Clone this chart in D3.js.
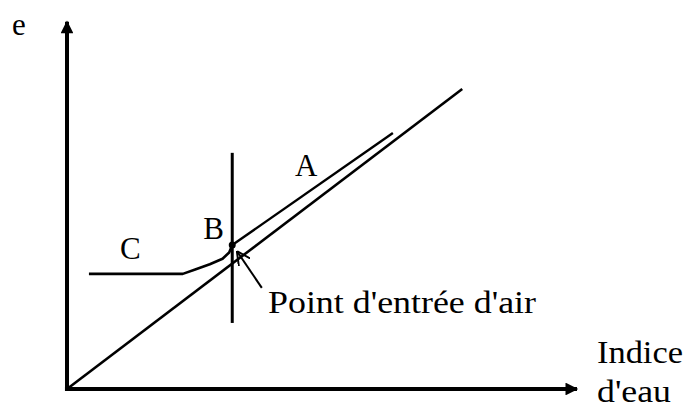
<!DOCTYPE html>
<html>
<head>
<meta charset="utf-8">
<script src="https://cdn.jsdelivr.net/npm/d3@7.9.0/dist/d3.min.js"></script>
<style>
  html, body { margin: 0; padding: 0; background: #fff; font-family: 'Liberation Serif', serif; }
  svg { display: block; }
  svg text { font-family: 'Liberation Serif', 'DejaVu Serif', serif; font-size: 31px; fill: #000; }
</style>
</head>
<body>
<svg id="chart" width="686" height="408"></svg>
<script>
// schematic values, in axis units (0..100 on both axes)
const diagonal = [[0, 0], [77.5, 81.3]];
const airEntryX = 32.4;
const verticalSpan = [17.9, 64.0];
const curveC = [[4.3, 31.2], [22.7, 31.2], [25.0, 32.3], [28.0, 33.8], [30.5, 35.3], [31.8, 37.0], [32.4, 39.0]];
const curveA = [[32.4, 39.0], [63.9, 69.4]];
const pointB = [32.4, 39.0];
const arrowB = [[38.2, 27.4], [33.3, 37.4]];
const labels = [
    { text: "C", x: 10.4, y: 35.2 },
    { text: "B", x: 26.7, y: 40.6 },
    { text: "A", x: 44.7, y: 57.7 },
];

const svg = d3.select('#chart');

// scales
let x = d3.scaleLinear().domain([0, 100]).range([67, 577]);
let y = d3.scaleLinear().domain([0, 100]).range([389, 20]);

let line = d3.line().x(d => x(d[0])).y(d => y(d[1]));

function draw() {
    svg.selectAll('*').remove();

    // arrow heads
    let defs = svg.append('defs');
    defs.append('marker')
        .attr('id', 'axisHead')
        .attr('viewBox', '0 0 10 10')
        .attr('refX', 9).attr('refY', 5)
        .attr('markerWidth', 3.6).attr('markerHeight', 3.2)
        .attr('markerUnits', 'strokeWidth')
        .attr('orient', 'auto')
        .append('path').attr('d', 'M0,0 L10,5 L0,10 z').attr('fill', '#000');
    defs.append('marker')
        .attr('id', 'thinHead')
        .attr('viewBox', '0 0 10 10')
        .attr('refX', 10).attr('refY', 5)
        .attr('markerWidth', 7).attr('markerHeight', 7)
        .attr('markerUnits', 'strokeWidth')
        .attr('orient', 'auto')
        .append('path').attr('d', 'M0,0 L10,5 L0,10').attr('fill', 'none').attr('stroke', '#000').attr('stroke-width', 1.4);

    // axes
    svg.append('path')
        .attr('d', line([[0, 0], [0, 99.5]]))
        .attr('stroke', '#000').attr('stroke-width', 4).attr('fill', 'none')
        .attr('marker-end', 'url(#axisHead)');
    svg.append('path')
        .attr('d', line([[-0.4, 0], [100, 0]]))
        .attr('stroke', '#000').attr('stroke-width', 4).attr('fill', 'none')
        .attr('marker-end', 'url(#axisHead)');

    // diagonal
    svg.append('path')
        .attr('d', line(diagonal))
        .attr('stroke', '#000').attr('stroke-width', 2.6).attr('fill', 'none');

    // vertical line at air entry
    svg.append('path')
        .attr('d', line(verticalSpan.map(v => [airEntryX, v])))
        .attr('stroke', '#000').attr('stroke-width', 3).attr('fill', 'none');

    // C branch and A branch
    svg.append('path')
        .attr('d', line(curveC))
        .attr('stroke', '#000').attr('stroke-width', 2.6).attr('fill', 'none')
        .attr('stroke-linejoin', 'round');
    svg.append('path')
        .attr('d', line(curveA))
        .attr('stroke', '#000').attr('stroke-width', 2.4).attr('fill', 'none');

    svg.append('circle')
        .attr('cx', x(pointB[0])).attr('cy', y(pointB[1])).attr('r', 3.5)
        .attr('fill', '#000');

    // arrow to B
    svg.append('path')
        .attr('d', line(arrowB))
        .attr('stroke', '#000').attr('stroke-width', 2).attr('fill', 'none')
        .attr('marker-end', 'url(#thinHead)');

    // letters
    labels.forEach(d => {
        svg.append('text')
            .attr('x', x(d.x)).attr('y', y(d.y))
            .text(d.text);
    });

    svg.append('text').attr('x', 12).attr('y', 35).text('e');

    svg.append('text')
        .attr('x', 268).attr('y', 313)
        .attr('textLength', 268).attr('lengthAdjust', 'spacingAndGlyphs')
        .text("Point d'entrée d'air");

    svg.append('text')
        .attr('x', 597).attr('y', 363)
        .attr('textLength', 86).attr('lengthAdjust', 'spacingAndGlyphs')
        .text('Indice');
    svg.append('text')
        .attr('x', 597).attr('y', 402)
        .attr('textLength', 74).attr('lengthAdjust', 'spacingAndGlyphs')
        .text("d'eau");
}

draw();
// redraw once the serif face is ready, in case the first pass used a fallback
if (document.fonts && document.fonts.load) {
    document.fonts.load("31px 'Liberation Serif'").then(draw, draw);
}
</script>
</body>
</html>
